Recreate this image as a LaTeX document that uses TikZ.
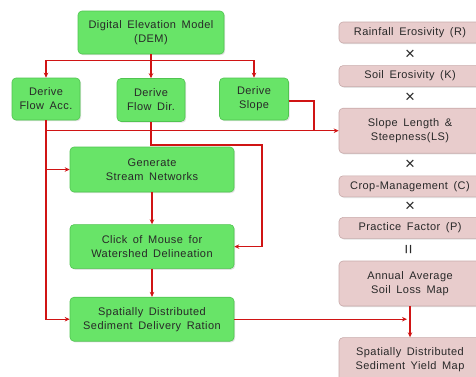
\documentclass[tikz,border=0pt]{standalone}
\usepackage{fontspec}
\setmainfont{Liberation Sans}[LetterSpace=4, WordSpace=1.6]
\usepackage{tikz}
\usetikzlibrary{arrows.meta,positioning,calc,shadows}
\definecolor{boxgreen}{RGB}{104,228,104}
\definecolor{edgegreen}{RGB}{80,196,80}
\definecolor{boxpink}{RGB}{232,204,204}
\definecolor{edgepink}{RGB}{200,170,170}
\definecolor{linered}{RGB}{208,20,20}
\definecolor{txtgray}{RGB}{40,40,40}

\begin{document}
\begin{tikzpicture}[x=1pt, y=-1pt,
  box/.style={rounded corners=4pt, align=center, font=\fontsize{11}{14}\selectfont,
              text=txtgray, inner sep=0pt,
              drop shadow={shadow xshift=1.2pt, shadow yshift=-1.2pt, fill=gray!45}},
  gbox/.style={box, fill=boxgreen, draw=edgegreen, line width=0.6pt},
  pbox/.style={box, fill=boxpink, draw=edgepink, line width=0.6pt,
               minimum width=142pt, minimum height=21pt},
  pbig/.style={pbox, minimum height=45pt},
  op/.style={font=\fontsize{17}{17}\selectfont, text=txtgray, inner sep=0pt},
  arr/.style={-{Stealth[length=5pt, width=4.5pt]}, line width=1.1pt, draw=linered},
  lin/.style={line width=1.1pt, draw=linered},
]
\useasboundingbox (0,0) rectangle (476,376);
\clip (0,0) rectangle (476,376);

% green chain
\node[gbox, minimum width=146pt, minimum height=43pt] (dem) at (151,32.5) {Digital Elevation Model\\(DEM)};
\node[gbox, minimum width=68pt, minimum height=42pt] (facc) at (46,99) {Derive\\Flow Acc.};
\node[gbox, minimum width=68pt, minimum height=43pt] (fdir) at (151,100) {Derive\\Flow Dir.};
\node[gbox, minimum width=69pt, minimum height=42pt] (slope) at (254,99) {Derive\\Slope};
\node[gbox, minimum width=164pt, minimum height=45pt] (gen) at (152,169.5) {Generate\\Stream Networks};
\node[gbox, minimum width=164pt, minimum height=44pt, below=32pt of gen] (click) {Click of Mouse for\\Watershed Delineation};
\node[gbox, minimum width=164pt, minimum height=44pt, below=28pt of click] (sdr) {Spatially Distributed\\Sediment Delivery Ration};

% pink column
\node[pbox] (rf) at (410,32.5) {Rainfall Erosivity (R)};
\node[pbox, below=22pt of rf] (ke) {Soil Erosivity (K)};
\node[pbig, below=21pt of ke] (ls) {Slope Length \&\\Steepness(LS)};
\node[pbox, below=22pt of ls] (cm) {Crop-Management (C)};
\node[pbox, below=20pt of cm] (pf) {Practice Factor (P)};
\node[pbig, below=22pt of pf] (al) {Annual Average\\Soil Loss Map};
\node[pbig, below=31pt of al] (sy) {Spatially Distributed\\Sediment Yield Map};

\node[op] (x1) at ($(rf.south)!0.5!(ke.north)$) {×};
\node[op] (x2) at ($(ke.south)!0.5!(ls.north)$) {×};
\node[op] (x3) at ($(ls.south)!0.5!(cm.north)$) {×};
\node[op] (x4) at ($(cm.south)!0.5!(pf.north)$) {×};
\node[op, rotate=90] (eq) at ($(pf.south)!0.5!(al.north)$) {=};

% connectors
\coordinate (br) at ($(dem.south)+(0,6)$);
\draw[arr] (dem.south) -- (fdir.north);
\draw[arr] (br) -| (facc.north);
\draw[arr] (br) -| (slope.north);
\draw[arr] (facc.south) |- (sdr.west);
\draw[arr] (facc.south |- gen.west) -- (gen.west);
\draw[arr] (facc.south |- ls.west) -- (ls.west);
\coordinate (sj) at (314,0);
\draw[lin] ($(slope.east)+(0,2)$) -| (sj |- ls.west);
\coordinate (dk) at (262,145);
\draw[arr] (fdir.south) |- (dk) |- (click.east);
\draw[arr] (gen) -- (click);
\draw[arr] (click) -- (sdr);
\draw[arr] (sdr.east) -- ($(sdr.east -| al.south)+(-3,0)$);
\draw[arr] (al.south) -- (sy.north);
\end{tikzpicture}
\end{document}
